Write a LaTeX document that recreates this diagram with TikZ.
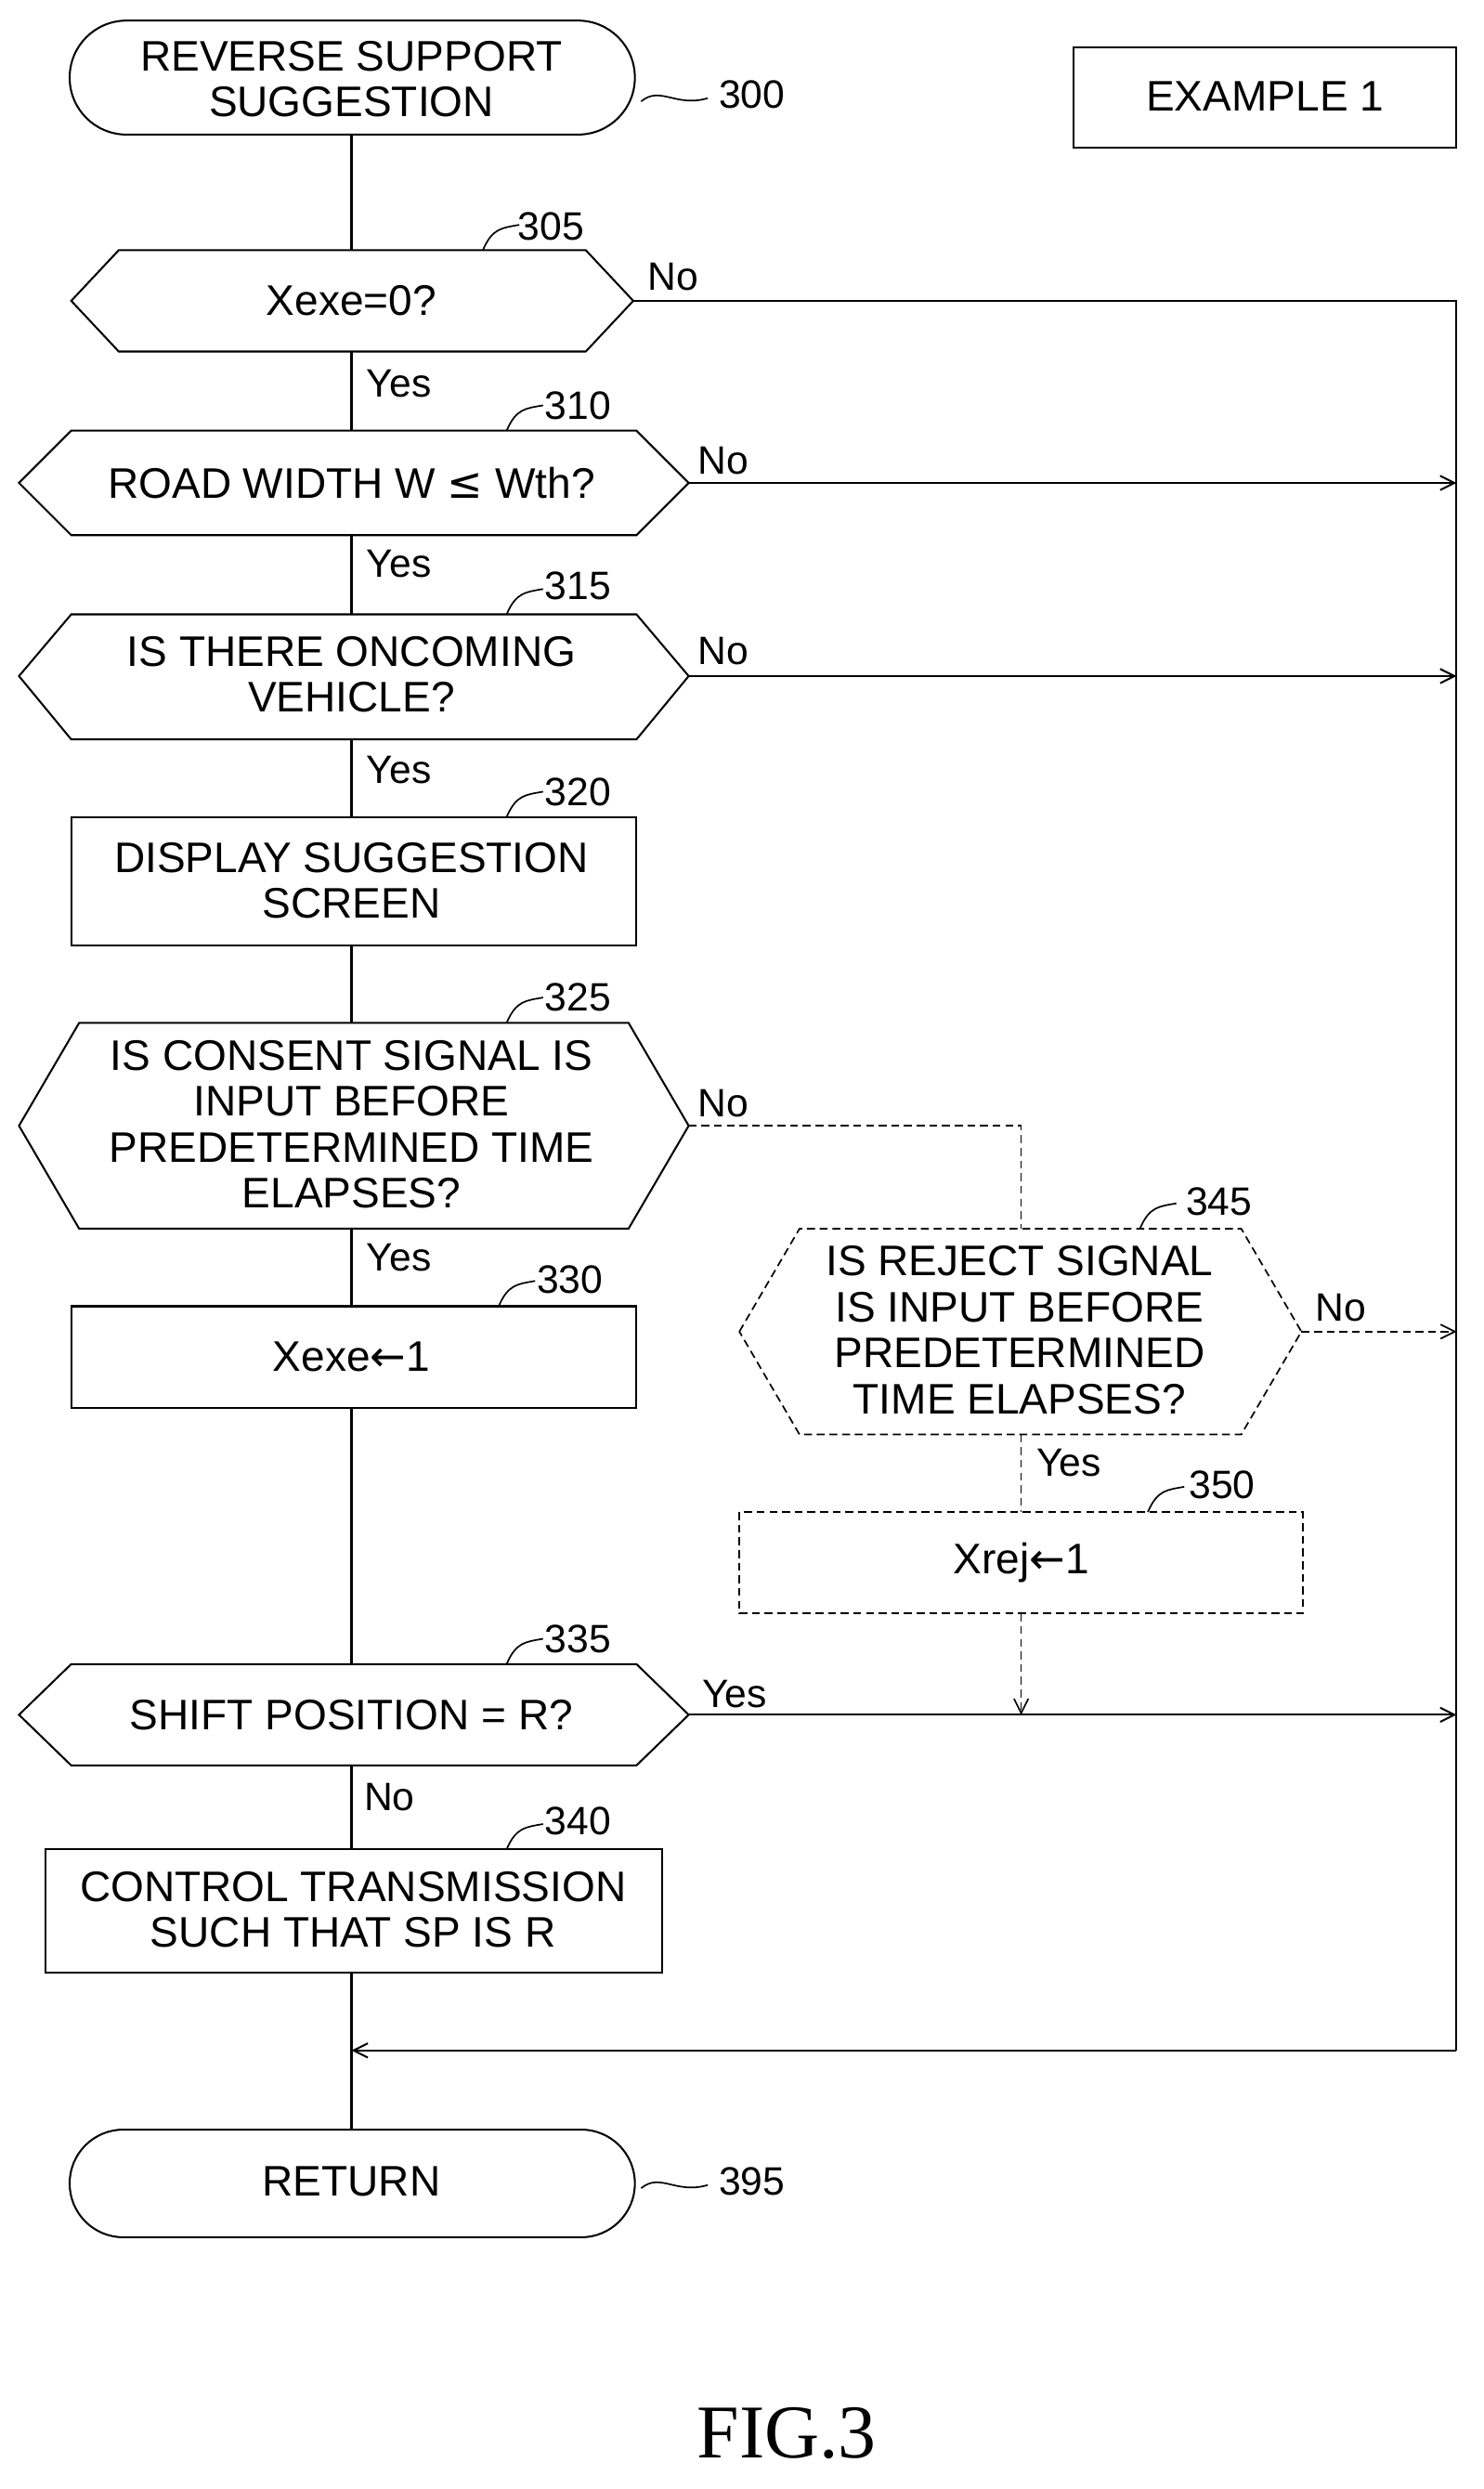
\documentclass[tikz,border=0pt]{standalone}
\usepackage{fontspec}
\setmainfont{Liberation Sans}
\newfontfamily\symf{DejaVu Sans}
\newfontfamily\figf{Liberation Serif}
\usetikzlibrary{arrows.meta}
\begin{document}
\begin{tikzpicture}[x=1pt,y=-1pt,line width=1.2pt,
  txt/.style={font=\fontsize{27}{29}\selectfont,align=center,inner sep=0pt},
  lbl/.style={font=\fontsize{25}{28}\selectfont,inner sep=0pt},
  dsh/.style={dashed,dash pattern=on 5pt off 3pt,line width=1pt},
  arr/.style={-{Straight Barb[length=9pt,width=9pt]}}]
\useasboundingbox (0,0) rectangle (937,1572);
% start terminal
\draw[rounded corners=35.9pt] (44,13) rectangle (401,85);
\node[txt] (t300) at (222,50) {REVERSE SUPPORT\\SUGGESTION};
\node[lbl] (n300) at (475,60) {300};
\draw[line width=1pt] (405,64) .. controls (417,54) and (427,68) .. (447,62);
% example
\draw (678,30) rectangle (920,93);
\node[txt] (ex) at (799,61) {EXAMPLE 1};
% 305
\draw (45,190) -- (75,158) -- (370,158) -- (400,190) -- (370,222) -- (75,222) -- cycle;
\node[txt] (d305) at (222,190) {Xexe=0?};
\node[lbl] (n305) at (348,143) {305};
% 310
\draw (12,305) -- (45,272) -- (402,272) -- (435,305) -- (402,338) -- (45,338) -- cycle;
\node[txt] (d310) at (222,305) {ROAD WIDTH W {\symf ≤} Wth?};
\node[lbl] (n310) at (365,256) {310};
% 315
\draw (12,427) -- (45,388) -- (402,388) -- (435,427) -- (402,467) -- (45,467) -- cycle;
\node[txt] (d315) at (222,426) {IS THERE ONCOMING\\VEHICLE?};
\node[lbl] (n315) at (365,370) {315};
% 320
\draw (45,516) rectangle (402,597);
\node[txt] (b320) at (222,556) {DISPLAY SUGGESTION\\SCREEN};
\node[lbl] (n320) at (365,500) {320};
% 325
\draw (12,711) -- (50,646) -- (397,646) -- (435,711) -- (397,776) -- (50,776) -- cycle;
\node[txt] (d325) at (222,710) {IS CONSENT SIGNAL IS\\INPUT BEFORE\\PREDETERMINED TIME\\ELAPSES?};
\node[lbl] (n325) at (365,630) {325};
% 330
\draw (45,825) rectangle (402,889);
\node[txt] (b330) at (222,857) {Xexe{\symf ←}1};
\node[lbl] (n330) at (360,808) {330};
% 345
\draw[dsh] (467,841) -- (505,776) -- (784,776) -- (822,841) -- (784,906) -- (505,906) -- cycle;
\node[txt] (d345) at (644,840) {IS REJECT SIGNAL\\IS INPUT BEFORE\\PREDETERMINED\\TIME ELAPSES?};
\node[lbl] (n345) at (770,759) {345};
% 350
\draw[dsh] (467,955) rectangle (823,1019);
\node[txt] (b350) at (645,987) {Xrej{\symf ←}1};
\node[lbl] (n350) at (772,938) {350};
% 335
\draw (12,1083) -- (45,1051) -- (402,1051) -- (435,1083) -- (402,1115) -- (45,1115) -- cycle;
\node[txt] (d335) at (222,1083) {SHIFT POSITION = R?};
\node[lbl] (n335) at (365,1035) {335};
% 340
\draw (29,1168) rectangle (418,1246);
\node[txt] (b340) at (223,1206) {CONTROL TRANSMISSION\\SUCH THAT SP IS R};
\node[lbl] (n340) at (365,1150) {340};
% return
\draw[rounded corners=33.9pt] (44,1345) rectangle (401,1413);
\node[txt] (ret) at (222,1378) {RETURN};
\node[lbl] (n395) at (475,1378) {395};
\draw[line width=1pt] (405,1382) .. controls (417,1372) and (427,1386) .. (447,1380);
% number leaders
\foreach \x/\y in {345/158,360/272,360/388,360/516,360/646,355/825,760/776,765/955,360/1051,360/1168}{
  \draw[line width=1pt] (\x-40,\y) .. controls (\x-34,\y-14) and (\x-28,\y-14) .. (\x-17,\y-16);}
% main flow
\draw (222,85) -- (222,158);
\draw (222,222) -- (222,272);
\draw (222,338) -- (222,388);
\draw (222,467) -- (222,516);
\draw (222,597) -- (222,646);
\draw (222,776) -- (222,825);
\draw (222,889) -- (222,1051);
\draw (222,1115) -- (222,1168);
\draw (222,1246) -- (222,1345);
% right bus
\coordinate (r1) at (920,190);
\coordinate (rb) at (920,1295);
\coordinate (lb) at (222,1295);
\draw (400,190) -- (r1) -- (rb);
\draw[arr] (rb) -- (lb);
\draw[arr] (435,305) -- (920,305);
\draw[arr] (435,427) -- (920,427);
\draw[arr] (435,1083) -- (920,1083);
\draw[dsh] (435,711) -- (645,711) -- (645,776);
\draw[dsh,arr] (822,841) -- (920,841);
\draw[dsh] (645,906) -- (645,955);
\draw[dsh,arr] (645,1019) -- (645,1083);
% yes/no
\node[lbl] at (425,175) {No};
\node[lbl] at (252,242) {Yes};
\node[lbl] at (457,291) {No};
\node[lbl] at (252,356) {Yes};
\node[lbl] at (457,411) {No};
\node[lbl] at (252,486) {Yes};
\node[lbl] at (457,697) {No};
\node[lbl] at (252,794) {Yes};
\node[lbl] at (847,826) {No};
\node[lbl] at (675,924) {Yes};
\node[lbl] at (464,1070) {Yes};
\node[lbl] at (246,1135) {No};
\node[font=\figf\fontsize{48}{52}\selectfont] (fig) at (497,1537) {FIG.3};
\end{tikzpicture}
\end{document}
